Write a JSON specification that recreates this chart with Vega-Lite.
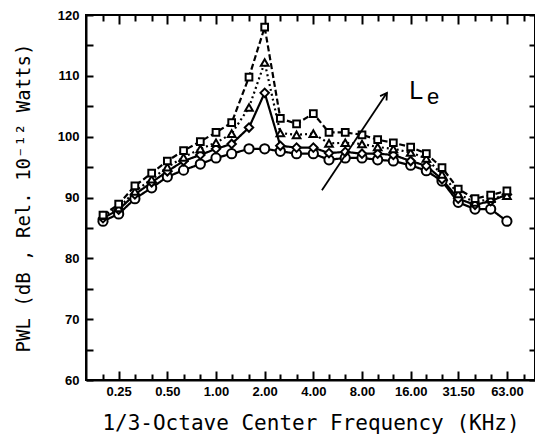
{
  "$schema": "https://vega.github.io/schema/vega-lite/v6.json",
  "width": 449,
  "height": 365,
  "autosize": "none",
  "padding": {"left": 86, "top": 15, "right": 0, "bottom": 60},
  "background": "white",
  "config": {
    "view": {"stroke": "black", "strokeWidth": 2},
    "axis": {"grid": false, "tickColor": "black", "domainColor": "black", "labelColor": "black", "titleColor": "black", "labelFlush": false, "labelOverlap": false}
  },
  "datasets": {
    "pwl": [
      {"f": 0.2, "s": "A", "v": 86.1}, {"f": 0.25, "s": "A", "v": 87.3}, {"f": 0.315, "s": "A", "v": 89.8}, {"f": 0.4, "s": "A", "v": 91.6}, {"f": 0.5, "s": "A", "v": 93.4}, {"f": 0.63, "s": "A", "v": 94.5}, {"f": 0.8, "s": "A", "v": 95.5}, {"f": 1, "s": "A", "v": 96.5}, {"f": 1.25, "s": "A", "v": 97.2}, {"f": 1.6, "s": "A", "v": 98.0}, {"f": 2, "s": "A", "v": 98.0}, {"f": 2.5, "s": "A", "v": 97.6}, {"f": 3.15, "s": "A", "v": 97.2}, {"f": 4, "s": "A", "v": 97.2}, {"f": 5, "s": "A", "v": 96.2}, {"f": 6.3, "s": "A", "v": 96.5}, {"f": 8, "s": "A", "v": 96.5}, {"f": 10, "s": "A", "v": 96.2}, {"f": 12.5, "s": "A", "v": 96.0}, {"f": 16, "s": "A", "v": 95.3}, {"f": 20, "s": "A", "v": 94.4}, {"f": 25, "s": "A", "v": 92.7}, {"f": 31.5, "s": "A", "v": 89.2}, {"f": 40, "s": "A", "v": 88.1}, {"f": 50, "s": "A", "v": 88.1}, {"f": 63, "s": "A", "v": 86.1},
      {"f": 0.2, "s": "B", "v": 86.6}, {"f": 0.25, "s": "B", "v": 88.0}, {"f": 0.315, "s": "B", "v": 90.5}, {"f": 0.4, "s": "B", "v": 92.5}, {"f": 0.5, "s": "B", "v": 94.3}, {"f": 0.63, "s": "B", "v": 96.0}, {"f": 0.8, "s": "B", "v": 97.0}, {"f": 1, "s": "B", "v": 98.0}, {"f": 1.25, "s": "B", "v": 98.8}, {"f": 1.6, "s": "B", "v": 101.5}, {"f": 2, "s": "B", "v": 107.2}, {"f": 2.5, "s": "B", "v": 98.5}, {"f": 3.15, "s": "B", "v": 98.2}, {"f": 4, "s": "B", "v": 98.2}, {"f": 5, "s": "B", "v": 97.3}, {"f": 6.3, "s": "B", "v": 97.5}, {"f": 8, "s": "B", "v": 97.2}, {"f": 10, "s": "B", "v": 97.2}, {"f": 12.5, "s": "B", "v": 97.0}, {"f": 16, "s": "B", "v": 96.0}, {"f": 20, "s": "B", "v": 95.2}, {"f": 25, "s": "B", "v": 93.0}, {"f": 31.5, "s": "B", "v": 89.8}, {"f": 40, "s": "B", "v": 88.8}, {"f": 50, "s": "B", "v": 89.4}, {"f": 63, "s": "B", "v": 90.5},
      {"f": 0.2, "s": "C", "v": 87.0}, {"f": 0.25, "s": "C", "v": 88.3}, {"f": 0.315, "s": "C", "v": 91.0}, {"f": 0.4, "s": "C", "v": 93.0}, {"f": 0.5, "s": "C", "v": 95.0}, {"f": 0.63, "s": "C", "v": 96.6}, {"f": 0.8, "s": "C", "v": 98.0}, {"f": 1, "s": "C", "v": 99.0}, {"f": 1.25, "s": "C", "v": 100.5}, {"f": 1.6, "s": "C", "v": 104.8}, {"f": 2, "s": "C", "v": 112.2}, {"f": 2.5, "s": "C", "v": 100.6}, {"f": 3.15, "s": "C", "v": 100.3}, {"f": 4, "s": "C", "v": 100.5}, {"f": 5, "s": "C", "v": 98.9}, {"f": 6.3, "s": "C", "v": 99.0}, {"f": 8, "s": "C", "v": 98.8}, {"f": 10, "s": "C", "v": 98.3}, {"f": 12.5, "s": "C", "v": 98.0}, {"f": 16, "s": "C", "v": 97.4}, {"f": 20, "s": "C", "v": 96.4}, {"f": 25, "s": "C", "v": 93.8}, {"f": 31.5, "s": "C", "v": 90.6}, {"f": 40, "s": "C", "v": 89.2}, {"f": 50, "s": "C", "v": 89.8}, {"f": 63, "s": "C", "v": 90.3},
      {"f": 0.2, "s": "D", "v": 87.1}, {"f": 0.25, "s": "D", "v": 88.9}, {"f": 0.315, "s": "D", "v": 91.9}, {"f": 0.4, "s": "D", "v": 94.0}, {"f": 0.5, "s": "D", "v": 96.0}, {"f": 0.63, "s": "D", "v": 97.7}, {"f": 0.8, "s": "D", "v": 99.2}, {"f": 1, "s": "D", "v": 100.7}, {"f": 1.25, "s": "D", "v": 102.3}, {"f": 1.6, "s": "D", "v": 109.8}, {"f": 2, "s": "D", "v": 118.0}, {"f": 2.5, "s": "D", "v": 103.0}, {"f": 3.15, "s": "D", "v": 102.1}, {"f": 4, "s": "D", "v": 103.8}, {"f": 5, "s": "D", "v": 100.7}, {"f": 6.3, "s": "D", "v": 100.7}, {"f": 8, "s": "D", "v": 100.3}, {"f": 10, "s": "D", "v": 99.5}, {"f": 12.5, "s": "D", "v": 99.0}, {"f": 16, "s": "D", "v": 98.3}, {"f": 20, "s": "D", "v": 97.2}, {"f": 25, "s": "D", "v": 94.9}, {"f": 31.5, "s": "D", "v": 91.4}, {"f": 40, "s": "D", "v": 89.8}, {"f": 50, "s": "D", "v": 90.4}, {"f": 63, "s": "D", "v": 91.1}
    ],
    "arrow": [{"f": 4.52, "v": 91.2, "f2": 11.41, "v2": 107.2}],
    "labelL": [{"f": 17.3, "v": 106.2, "t": "L"}],
    "labelE": [{"f": 22.0, "v": 105.4, "t": "e"}]
  },
  "resolve": {"axis": {"x": "independent", "y": "independent"}},
  "layer": [
    {
      "data": {"name": "pwl"},
      "mark": {"type": "line", "color": "black", "strokeWidth": 2.2},
      "encoding": {
        "x": {"field": "f", "type": "quantitative",
          "scale": {"type": "log", "domain": [0.157, 94], "nice": false},
          "axis": {"orient": "bottom", "values": [0.25, 0.5, 1, 2, 4, 8, 16, 31.5, 63], "format": ".2f", "tickSize": -9, "tickWidth": 2, "domainWidth": 2, "labelFont": "Liberation Sans", "labelFontWeight": "bold", "labelFontSize": 13, "labelPadding": 14, "title": "1/3-Octave Center Frequency (KHz)", "titleFont": "DejaVu Sans Mono", "titleFontSize": 21, "titleFontWeight": "normal", "titlePadding": 14}},
        "y": {"field": "v", "type": "quantitative",
          "scale": {"domain": [60, 120], "nice": false, "zero": false},
          "axis": {"orient": "left", "values": [60, 65, 70, 75, 80, 85, 90, 95, 100, 105, 110, 115, 120], "labelExpr": "datum.value % 10 === 0 ? datum.label : ''", "tickSize": -7, "tickWidth": 2, "domainWidth": 2, "labelFont": "Liberation Sans", "labelFontWeight": "bold", "labelFontSize": 13, "labelPadding": 14, "title": "PWL (dB , Rel. 10⁻¹² Watts)", "titleFont": "DejaVu Sans Mono", "titleFontSize": 19, "titleFontWeight": "normal", "titlePadding": 24}},
        "detail": {"field": "s"},
        "strokeDash": {"field": "s", "type": "nominal", "scale": {"domain": ["A", "B", "C", "D"], "range": [[1, 0], [1, 0], [2, 3], [6, 3]]}, "legend": null}
      }
    },
    {
      "data": {"name": "pwl"},
      "mark": {"type": "point", "filled": true, "fill": "white", "stroke": "black", "strokeWidth": 2, "opacity": 1},
      "encoding": {
        "x": {"field": "f", "type": "quantitative",
          "axis": {"orient": "bottom", "values": [0.2, 0.315, 0.4, 0.63, 0.8, 1.25, 1.6, 2.5, 3.15, 5, 6.3, 10, 12.5, 20, 25, 40, 50, 80], "labels": false, "domain": false, "tickSize": -6, "tickWidth": 2, "title": null}},
        "y": {"field": "v", "type": "quantitative",
          "axis": {"orient": "right", "values": [60, 65, 70, 75, 80, 85, 90, 95, 100, 105, 110, 115, 120], "labels": false, "domain": false, "tickSize": -6, "tickWidth": 2, "title": null}},
        "shape": {"field": "s", "type": "nominal", "scale": {"domain": ["A", "B", "C", "D"], "range": ["circle", "diamond", "triangle-up", "square"]}, "legend": null},
        "size": {"field": "s", "type": "nominal", "scale": {"domain": ["A", "B", "C", "D"], "range": [85, 45, 65, 85]}, "legend": null}
      }
    },
    {
      "data": {"name": "arrow"},
      "mark": {"type": "rule", "color": "black", "strokeWidth": 1.8},
      "encoding": {
        "x": {"field": "f", "type": "quantitative",
          "axis": {"orient": "top", "values": [0.25, 0.5, 1, 2, 4, 8, 16, 31.5, 63], "labels": false, "domain": false, "tickSize": -9, "tickWidth": 2, "title": null}},
        "y": {"field": "v", "type": "quantitative", "axis": null},
        "x2": {"field": "f2"},
        "y2": {"field": "v2"}
      }
    },
    {
      "data": {"name": "arrow"},
      "mark": {"type": "point", "shape": "M -0.45 0.75 L 0 0 L 0.45 0.75", "filled": false, "stroke": "black", "strokeWidth": 1.8, "size": 300, "angle": 34, "opacity": 1},
      "encoding": {
        "x": {"field": "f2", "type": "quantitative",
          "axis": {"orient": "top", "values": [0.2, 0.315, 0.4, 0.63, 0.8, 1.25, 1.6, 2.5, 3.15, 5, 6.3, 10, 12.5, 20, 25, 40, 50, 80], "labels": false, "domain": false, "tickSize": -6, "tickWidth": 2, "title": null}},
        "y": {"field": "v2", "type": "quantitative", "axis": null}
      }
    },
    {
      "data": {"name": "labelL"},
      "mark": {"type": "text", "font": "Liberation Sans", "fontSize": 25, "align": "center", "baseline": "alphabetic", "color": "black"},
      "encoding": {
        "x": {"field": "f", "type": "quantitative", "axis": null},
        "y": {"field": "v", "type": "quantitative", "axis": null},
        "text": {"field": "t"}
      }
    },
    {
      "data": {"name": "labelE"},
      "mark": {"type": "text", "font": "Liberation Sans", "fontSize": 22, "align": "center", "baseline": "alphabetic", "color": "black"},
      "encoding": {
        "x": {"field": "f", "type": "quantitative", "axis": null},
        "y": {"field": "v", "type": "quantitative", "axis": null},
        "text": {"field": "t"}
      }
    }
  ]
}
